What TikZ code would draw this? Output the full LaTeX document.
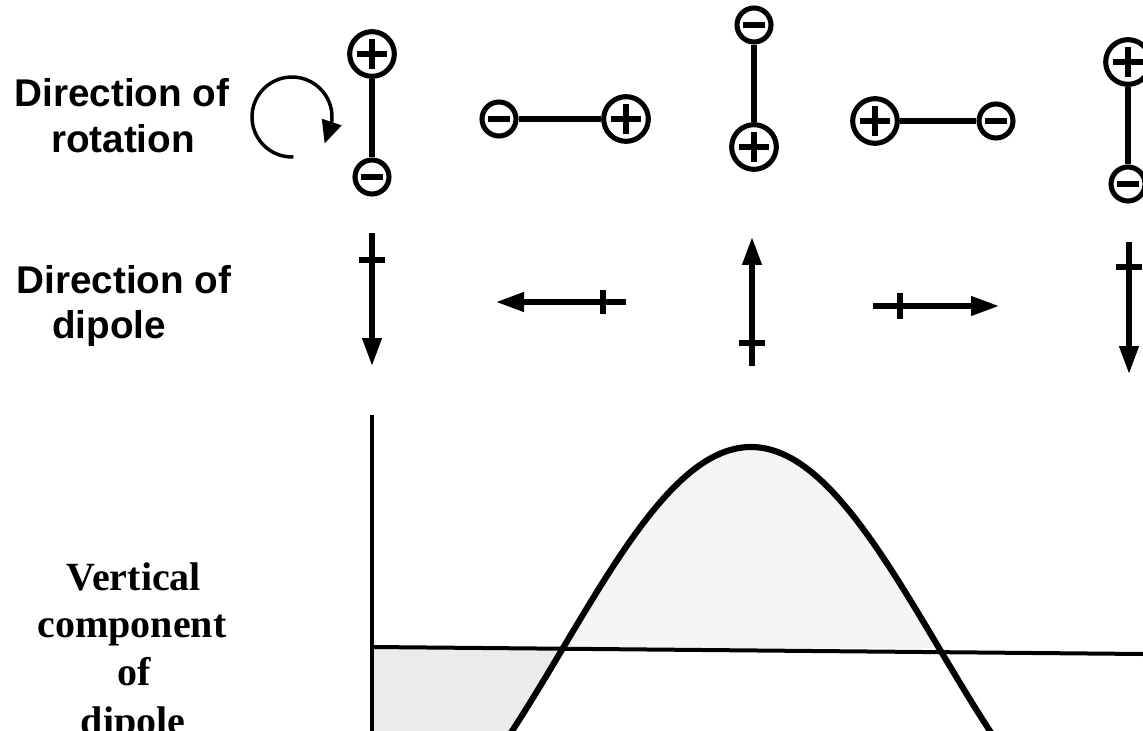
\documentclass[tikz,border=0pt]{standalone}
\usepackage{fontspec}
\setmainfont{Liberation Serif}
\newfontfamily\hsans{Liberation Sans}
\usetikzlibrary{arrows.meta}
\tikzset{
  sanslab/.style={anchor=base, inner sep=0pt, font=\hsans\bfseries\fontsize{29}{34}\selectfont},
  seriflab/.style={anchor=base, inner sep=0pt, font=\bfseries\fontsize{30}{35}\selectfont},
  poscharge/.style={circle, draw, line width=3.8pt, fill=white, inner sep=0pt, minimum size=33.5pt,
    path picture={\draw[line width=4.6pt] ([xshift=-11pt]path picture bounding box.center) -- ([xshift=11pt]path picture bounding box.center);
                  \draw[line width=4.6pt] ([yshift=-11pt]path picture bounding box.center) -- ([yshift=11pt]path picture bounding box.center);}},
  negcharge/.style={circle, draw, line width=3.8pt, fill=white, inner sep=0pt, minimum size=25.5pt,
    path picture={\draw[line width=4.6pt] ([xshift=-8pt]path picture bounding box.center) -- ([xshift=8pt]path picture bounding box.center);}},
  bond/.style={line width=4pt},
  dip/.style={line width=4pt, -{Triangle[length=21pt,width=14pt]}},
  crossbar/.style={line width=4pt},
  axisline/.style={line width=2.4pt},
  wave/.style={line width=4.6pt},
}
\begin{document}
\begin{tikzpicture}[x=0.75pt,y=-0.75pt]
\useasboundingbox (0,0) rectangle (1143,731);
\clip (0,0) rectangle (1143,731);
\fill[white] (0,0) rectangle (1143,731);

% labels
\node[sanslab] (r1) at (122,107) {Direction of};
\node[sanslab] (r2) at (123,153) {rotation};
\node[sanslab] (d1) at (124,293) {Direction of};
\node[sanslab] (d2) at (109,338) {dipole};
\node[seriflab] (v1) at (134,590) {Vertical};
\node[seriflab] (v2) at (132,637) {component};
\node[seriflab] (v3) at (134,685) {of};
\node[seriflab] (v4) at (133,734) {dipole};

% rotation arrow
\coordinate (rc) at (292,117);
\draw[line width=2.6pt, -{Triangle[length=17pt,width=15pt]}] (rc) ++(88:40) arc[start angle=88, end angle=368, radius=40] -- ++(-7,21);

% dipoles
\node[poscharge] (p1) at (372,54) {};
\node[negcharge] (m1) at (372,177) {};
\node[negcharge] (m2) at (499,119) {};
\node[poscharge] (p2) at (626,119) {};
\node[negcharge] (m3) at (754,25) {};
\node[poscharge] (p3) at (754,147) {};
\node[poscharge] (p4) at (875,121) {};
\node[negcharge] (m4) at (996,121) {};
\node[poscharge] (p5) at (1128,62) {};
\node[negcharge] (m5) at (1128,184) {};
\draw[bond] (p1) -- (m1);
\draw[bond] (m2) -- (p2);
\draw[bond] (m3) -- (p3);
\draw[bond] (p4) -- (m4);
\draw[bond] (p5) -- (m5);

% dipole direction arrows
\coordinate (a1s) at (372,233); \coordinate (a1e) at (372,366); \coordinate (a1t) at (372,260);
\draw[dip] (a1s) -- (a1e);
\draw[crossbar] ([xshift=-10pt]a1t) -- ([xshift=10pt]a1t);

\coordinate (a2s) at (626,302); \coordinate (a2e) at (496,302); \coordinate (a2t) at (603,302);
\draw[dip] (a2s) -- (a2e);
\draw[crossbar] ([yshift=-9pt]a2t) -- ([yshift=9pt]a2t);

\coordinate (a3s) at (752,366); \coordinate (a3e) at (752,237); \coordinate (a3t) at (752,343);
\draw[dip] (a3s) -- (a3e);
\draw[crossbar] ([xshift=-10pt]a3t) -- ([xshift=10pt]a3t);

\coordinate (a4s) at (873,306); \coordinate (a4e) at (999,306); \coordinate (a4t) at (900,306);
\draw[dip] (a4s) -- (a4e);
\draw[crossbar] ([yshift=-10pt]a4t) -- ([yshift=10pt]a4t);

\coordinate (a5s) at (1129,242); \coordinate (a5e) at (1129,374); \coordinate (a5t) at (1129,267);
\draw[dip] (a5s) -- (a5e);
\draw[crossbar] ([xshift=-10pt]a5t) -- ([xshift=10pt]a5t);

% graph shading
\fill[black!4] plot[domain=563:939, samples=80] (\x,{648-201*cos(0.478723*(\x-751))}) -- cycle;
\fill[black!8] (372,648) -- plot[domain=563:495, samples=30] (\x,{648-201*cos(0.478723*(\x-751))}) -- (372,740) -- cycle;

% axes
\coordinate (yt) at (372,415); \coordinate (yb) at (372,740);
\coordinate (xl) at (372,647); \coordinate (xr) at (1143,654);
\draw[axisline] (yt) -- (yb);
\draw[line width=3pt] (xl) -- (xr);

% curve
\draw[wave] plot[domain=495:1008, samples=150] (\x,{648-201*cos(0.478723*(\x-751))});
\end{tikzpicture}
\end{document}
